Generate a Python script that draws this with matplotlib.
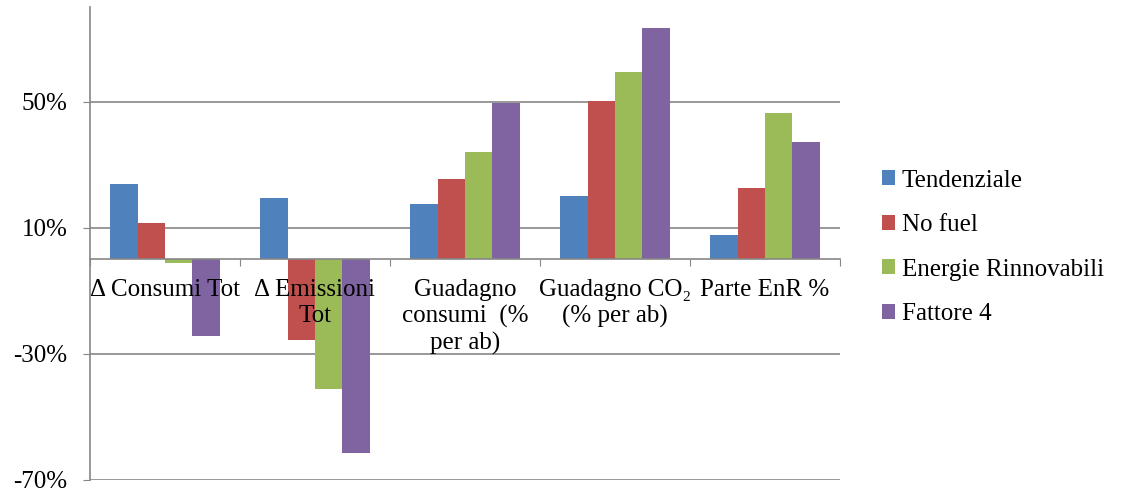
import numpy as np
import matplotlib.pyplot as plt
from matplotlib.patches import Patch

plt.rcParams['font.family'] = ['Liberation Serif', 'DejaVu Serif']

# Dati (in %)
categorie = ["Δ Consumi Tot", "Δ Emissioni\nTot", "Guadagno\nconsumi  (%\nper ab)",
             "Guadagno CO₂\n(% per ab)", "Parte EnR %"]
serie = ["Tendenziale", "No fuel", "Energie Rinnovabili", "Fattore 4"]
tendenziale = [23.8, 19.6, 17.6, 20.2, 7.7]
no_fuel = [11.7, -25.6, 25.5, 50.2, 22.8]
energie_rinnovabili = [-1.0, -41.2, 34.2, 59.6, 46.4]
fattore_4 = [-24.3, -61.3, 49.7, 73.4, 37.4]
yticks = [-70, -30, 10, 50]

valori = [tendenziale, no_fuel, energie_rinnovabili, fattore_4]
colori = ['#4F81BD', '#C0504D', '#9BBB59', '#8064A2']
grigio = '#868686'
fs = 18

fig = plt.figure(figsize=(11.23, 4.92), dpi=100)
ax = fig.add_axes([0.0801, 0.0244, 0.748 - 0.0801, 0.985 - 0.0244])

x = np.arange(len(categorie))
w = 0.182
for i, (v, c) in enumerate(zip(valori, colori)):
    ax.bar(x + (i - 1.5) * w, v, w, color=c, zorder=2, linewidth=0)

ax.set_xlim(-0.5, len(categorie) - 0.5)
ax.set_ylim(-70, 80)
ax.set_yticks(yticks)
ax.set_yticklabels([f"{t}%" for t in yticks], fontsize=fs)
ax.yaxis.grid(True, color=grigio, linewidth=1.2, zorder=0)
ax.set_axisbelow(True)
ax.tick_params(axis='y', length=5, color=grigio, pad=11)

# asse x sullo zero con tacche tra le categorie
ax.spines['bottom'].set_position(('data', 0))
ax.spines['bottom'].set_color(grigio)
ax.spines['bottom'].set_linewidth(1.2)
ax.spines['bottom'].set_zorder(3)
ax.set_xticks(np.arange(len(categorie) + 1) - 0.5)
ax.set_xticklabels([])
ax.tick_params(axis='x', length=5, color=grigio, direction='out')
ax.spines['left'].set_color(grigio)
ax.spines['left'].set_linewidth(1.2)
ax.spines['top'].set_visible(False)
ax.spines['right'].set_visible(False)

for xi, lab in zip(x, categorie):
    ax.text(xi, -6.3, lab, ha='center', va='top', fontsize=fs,
            linespacing=1.2, zorder=5)

handles = [Patch(facecolor=c, label=s) for c, s in zip(colori, serie)]
fig.legend(handles=handles, loc='center left', bbox_to_anchor=(0.765, 0.497),
           frameon=False, fontsize=fs, handlelength=0.55, handleheight=0.55,
           handletextpad=0.25, labelspacing=0.9)

fig.savefig('out.png', dpi=100)
